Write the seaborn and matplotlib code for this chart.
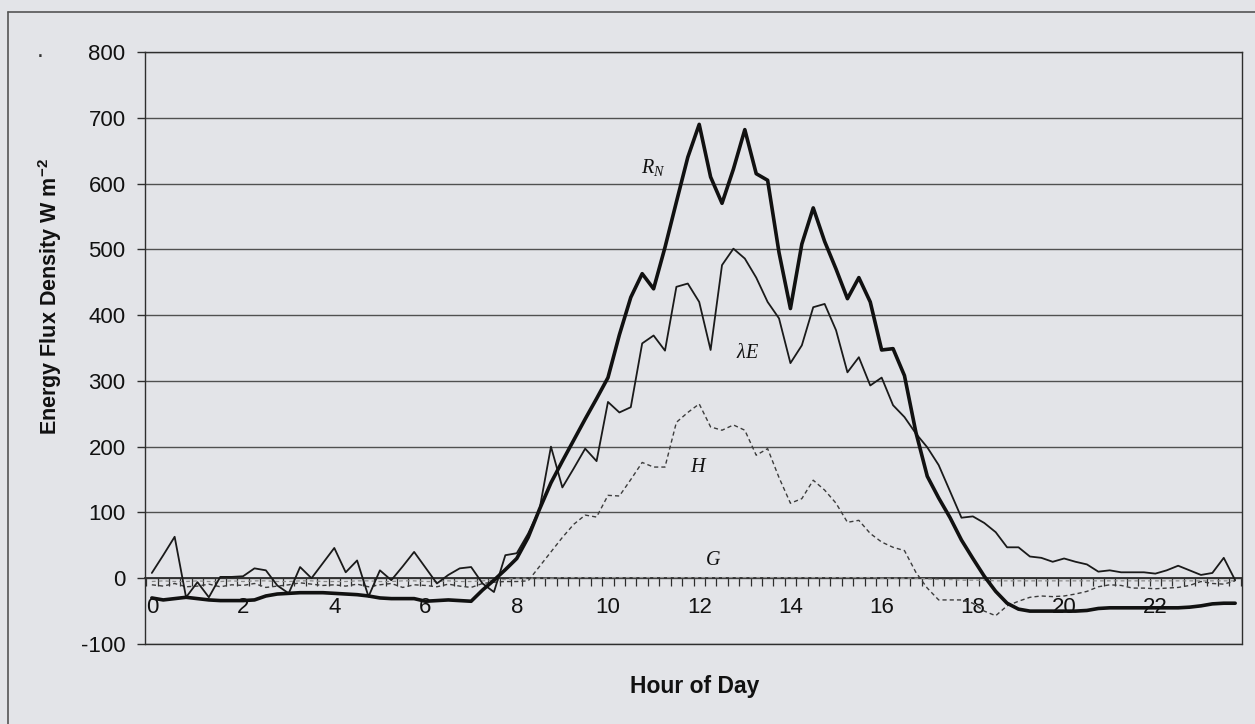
import numpy as np
import pandas as pd
import matplotlib
matplotlib.use("Agg")
import matplotlib.pyplot as plt
from matplotlib.lines import Line2D
import seaborn as sns

# 15-minute energy balance record over one day
hours = np.arange(96) * 0.25

net_radiation = [
    -30, -33, -31, -29, -31, -33, -34, -34,
    -34, -33, -27, -24, -23, -22, -22, -22,
    -23, -24, -25, -27, -30, -31, -31, -31,
    -35, -34, -33, -34, -35, -18, -3, 13,
    30, 62, 105, 145, 178, 210, 242, 273,
    305, 370, 427, 463, 440, 503, 572, 640,
    690, 610, 570, 622, 682, 615, 605, 495,
    410, 508, 563, 512, 470, 425, 457, 420,
    347, 349, 308, 222, 155, 122, 92, 58,
    30, 3, -20, -38, -47, -50, -50, -50,
    -50, -50, -49, -46, -45, -45, -45, -45,
    -45, -45, -45, -44, -42, -39, -38, -38,
]

latent_heat = [
    8, 35, 63, -29, -6, -29, 2, 2,
    3, 15, 12, -11, -23, 17, 0, 23,
    46, 9, 27, -28, 12, -3, 18, 40,
    16, -8, 5, 15, 17, -8, -21, 35,
    38, 68, 105, 200, 138, 167, 197, 178,
    268, 252, 260, 357, 369, 346, 443, 448,
    420, 347, 476, 501, 486, 457, 420, 395,
    327, 354, 412, 417, 377, 313, 336, 293,
    305, 263, 245, 220, 199, 172, 132, 92,
    94, 84, 70, 47, 47, 33, 31, 25,
    30, 25, 21, 10, 12, 9, 9, 9,
    7, 12, 19, 12, 5, 8, 31, -3,
]

sensible_heat = [
    -10, -12, -8, -13, -12, -9, -13, -10,
    -11, -8, -14, -12, -10, -7, -9, -11,
    -10, -12, -9, -13, -10, -8, -14, -10,
    -11, -13, -9, -12, -14, -8, -6, -5,
    -5, -4, 18, 40, 62, 82, 96, 93,
    126, 125, 150, 176, 169, 169, 237, 252,
    265, 230, 225, 233, 225, 187, 197, 153,
    114, 121, 149, 134, 114, 85, 88, 68,
    55, 47, 42, 9, -15, -33, -33, -33,
    -38, -50, -57, -42, -35, -29, -27, -28,
    -27, -24, -20, -13, -10, -11, -15, -15,
    -16, -15, -14, -11, -5, -8, -9, -4,
]

ground_heat = [
    -5, -4, -5, -5, -4, -5, -5, -4,
    -5, -4, -4, -5, -5, -4, -4, -5,
    -5, -5, -4, -4, -5, -5, -4, -4,
    -5, -5, -4, -5, -5, -4, -3, -2,
    0, 0, 0, 0, 1, 1, 1, 1,
    1, 1, 1, 1, 1, 1, 1, 1,
    1, 1, 1, 1, 1, 1, 1, 1,
    1, 1, 1, 1, 1, 1, 1, 1,
    0, 0, 0, 0, -1, -2, -2, -3,
    -3, -3, -4, -4, -4, -4, -4, -4,
    -4, -4, -4, -4, -4, -4, -4, -4,
    -4, -4, -4, -4, -4, -4, -4, -4,
]

x_label_hours = [0, 2, 4, 6, 8, 10, 12, 14, 16, 18, 20, 22]
x_tick_labels = [str(h) for h in x_label_hours]
y_ticks = [-100, 0, 100, 200, 300, 400, 500, 600, 700, 800]

series_labels = ["$R_N$", r"$\lambda E$", "$H$", "$G$"]
label_hours = [11.0, 13.05, 12.0, 12.3]
label_values = [625, 342, 169, 27]

df = pd.DataFrame({
    "hour": hours,
    "RN": net_radiation,
    "LE": latent_heat,
    "H": sensible_heat,
    "G": ground_heat,
})

sns.set_theme(style="white")
plt.rcParams["font.family"] = ["Liberation Sans", "DejaVu Sans"]
plt.rcParams["mathtext.default"] = "regular"
plt.rcParams["axes.unicode_minus"] = False

bg = "#e3e4e8"
ink = "#2e2e2e"

fig = plt.figure(figsize=(12.55, 7.24), dpi=100, facecolor=bg)
ax = fig.add_axes([145 / 1255, 1 - 644 / 724, 1097 / 1255, 592 / 724])
ax.set_facecolor(bg)

# Flux curves, thinnest first so net radiation sits on top
sns.lineplot(data=df, x="hour", y="G", ax=ax, color="#8c8c8c", lw=0.9,
             linestyle=(0, (3, 2.5)), errorbar=None, zorder=3)
sns.lineplot(data=df, x="hour", y="H", ax=ax, color="#3c3c3c", lw=1.0,
             linestyle=(0, (3, 2.2)), errorbar=None, zorder=4)
sns.lineplot(data=df, x="hour", y="LE", ax=ax, color="#1a1a1a", lw=1.3,
             errorbar=None, zorder=5)
sns.lineplot(data=df, x="hour", y="RN", ax=ax, color="#111111", lw=2.6,
             errorbar=None, zorder=6)

ax.set_xlim(-0.15, 23.9)
ax.set_ylim(-100, 800)

# Horizontal gridlines
ax.set_yticks(y_ticks)
ax.yaxis.grid(True, color="#505050", lw=1.0)
ax.xaxis.grid(False)
ax.set_axisbelow(True)

for side in ["left", "right", "top", "bottom"]:
    ax.spines[side].set_visible(True)
    ax.spines[side].set_color(ink)
    ax.spines[side].set_linewidth(1.0)
ax.spines["bottom"].set_position(("data", 0))
ax.spines["bottom"].set_linewidth(1.3)
ax.axhline(-100, color=ink, lw=1.0, clip_on=False, zorder=2)

# Category-style ticks along the zero line, labels every two hours
ax.set_xticks(x_label_hours)
ax.set_xticklabels(x_tick_labels)
ax.set_xticks(np.arange(97) * 0.25 - 0.125, minor=True)
ax.tick_params(axis="x", which="major", length=0, pad=13.5, labelsize=16,
               labelcolor="#111111")
ax.tick_params(axis="x", which="minor", length=5.5, width=0.9, color=ink,
               direction="out", bottom=True)
ax.tick_params(axis="y", which="major", length=6, width=1.0, color=ink,
               direction="out", left=True, pad=8, labelsize=16,
               labelcolor="#111111")

ax.set_xlabel("")
ax.set_ylabel("")

fig.text(50 / 1255, 1 - 297 / 724, "Energy Flux Density W m$^{-2}$",
         rotation=90, ha="center", va="center", fontsize=15.5,
         fontweight="bold", color="#111111")
fig.text(695 / 1255, 1 - 686 / 724, "Hour of Day", ha="center",
         va="center", fontsize=16.5, fontweight="bold", color="#111111")

for text, hx, hy in zip(series_labels, label_hours, label_values):
    ax.text(hx, hy, text, ha="center", va="center", fontsize=14.5,
            family="Liberation Serif", style="italic", color="#111111",
            zorder=7)

# Outer chart frame
fig.add_artist(Line2D([7.5 / 1255, 7.5 / 1255], [0, 1 - 12 / 724],
                      transform=fig.transFigure, color="#555555", lw=1.2))
fig.add_artist(Line2D([7.5 / 1255, 1], [1 - 12 / 724, 1 - 12 / 724],
                      transform=fig.transFigure, color="#555555", lw=1.2))
fig.text(40 / 1255, 1 - 50 / 724, ".", fontsize=18, color="#333333",
         ha="center", va="center")

fig.savefig("out.png", dpi=100, facecolor=bg)
